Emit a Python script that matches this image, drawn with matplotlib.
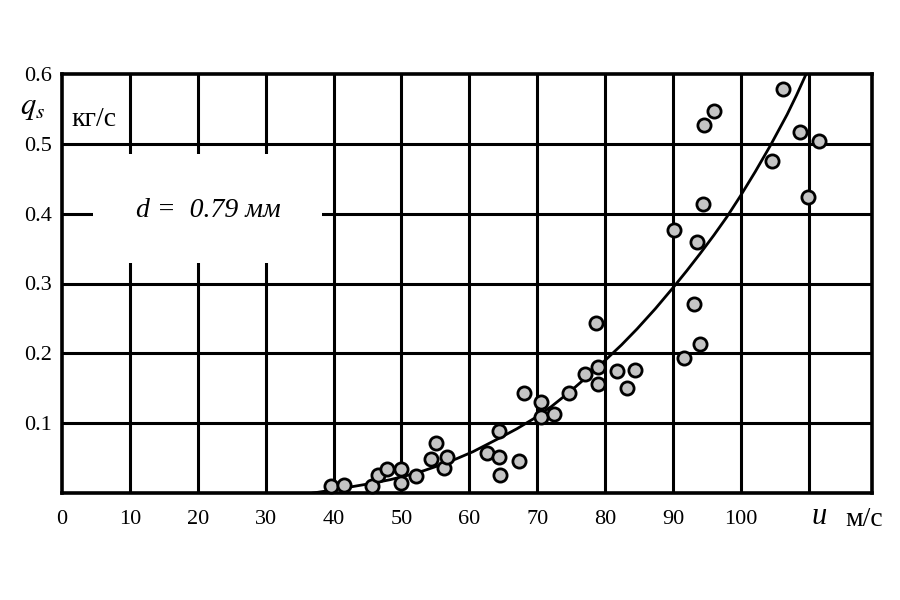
import matplotlib
matplotlib.use("Agg")
import matplotlib.pyplot as plt
from matplotlib.patches import Rectangle

# measured points (u, m/s ; q_s, kg/s)
u_pts = [39.6, 41.5, 45.7, 46.5, 47.9, 49.9, 50.0, 52.1, 54.3, 55.1, 56.3, 56.7,
         62.6, 64.4, 64.4, 64.5, 67.3, 68.0, 70.5, 70.5, 72.5, 74.7, 77.0, 78.6,
         78.9, 78.9, 81.7, 83.2, 84.4, 90.1, 91.6, 93.1, 93.5, 94.0, 94.4, 94.5,
         96.0, 104.6, 106.2, 108.7, 109.9, 111.5]
q_pts = [0.010, 0.011, 0.010, 0.026, 0.034, 0.034, 0.015, 0.024, 0.048, 0.071, 0.036, 0.051,
         0.057, 0.089, 0.051, 0.026, 0.046, 0.143, 0.130, 0.109, 0.113, 0.143, 0.170, 0.244,
         0.181, 0.156, 0.174, 0.150, 0.176, 0.377, 0.193, 0.270, 0.359, 0.213, 0.414, 0.527,
         0.547, 0.476, 0.579, 0.517, 0.424, 0.504]

# approximating curve
u_curve = [37.0, 39.0, 40.9, 43.3, 45.7, 48.3, 50.8, 53.3, 55.7, 58.1, 60.5, 62.5, 64.5,
           67.0, 69.4, 72.1, 74.8, 77.4, 80.0, 82.4, 84.7, 87.4, 90.0, 92.0, 94.0,
           96.0, 97.9, 99.9, 102.1, 104.3, 106.8, 108.2, 109.6]
q_curve = [0.0, 0.003, 0.006, 0.010, 0.014, 0.019, 0.025, 0.032, 0.040, 0.049, 0.059,
           0.069, 0.079, 0.092, 0.106, 0.124, 0.145, 0.167, 0.190, 0.212, 0.235, 0.264,
           0.294, 0.318, 0.343, 0.369, 0.395, 0.425, 0.460, 0.497, 0.542, 0.570, 0.600]

x_ticks = [0, 10, 20, 30, 40, 50, 60, 70, 80, 90, 100]
x_grid = [10, 20, 30, 40, 50, 60, 70, 80, 90, 100, 110]
y_ticks = [0.1, 0.2, 0.3, 0.4, 0.5, 0.6]
y_grid = [0.1, 0.2, 0.3, 0.4, 0.5]

SERIF = "Liberation Serif"

fig = plt.figure(figsize=(9, 6), dpi=100)
ax = fig.add_axes([62/900, 1-493/600, (872-62)/900, (493-74)/600])
ax.set_xlim(0, 119.3)
ax.set_ylim(0, 0.6)

for xv in x_grid:
    ax.axvline(xv, color="black", lw=2.2, zorder=1)
for yv in y_grid:
    ax.axhline(yv, color="black", lw=2.2, zorder=1)

ax.add_patch(Rectangle((4.6, 0.33), 33.7, 0.156, facecolor="white",
                       edgecolor="none", zorder=2))

ax.plot(u_curve, q_curve, color="black", lw=2.0, zorder=3, clip_on=True)
ax.plot(u_pts, q_pts, linestyle="none", marker="o", markersize=9.5,
        markerfacecolor="#c4c4c4", markeredgecolor="black", markeredgewidth=2.0,
        zorder=4, clip_on=False)

for s in ax.spines.values():
    s.set_linewidth(2.6)
    s.set_color("black")

ax.set_xticks(x_ticks)
ax.set_xticklabels([str(v) for v in x_ticks], fontfamily=SERIF, fontsize=16)
ax.set_yticks(y_ticks)
ax.set_yticklabels([f"{v:.1f}" for v in y_ticks], fontfamily=SERIF, fontsize=16)
ax.tick_params(axis="x", length=0, pad=12)
ax.tick_params(axis="y", length=0, pad=7)

ax.text(21.5, 0.405, "d =  0.79 мм", fontfamily=SERIF,
        style="italic", fontsize=20, ha="center", va="center", zorder=5)
ax.text(1.4, 0.535, "кг/с", fontfamily=SERIF, fontsize=20, ha="left",
        va="center", zorder=5)

fig.text(33/900, 1-108/600, r"$q_s$", fontsize=22, ha="center", va="center",
         math_fontfamily="stix")
fig.text(819/900, 1-517/600, "u", fontfamily=SERIF, style="italic", fontsize=22,
         ha="center", va="center")
fig.text(864/900, 1-520/600, "м/с", fontfamily=SERIF, fontsize=20,
         ha="center", va="center")

fig.savefig("out.png", dpi=100, facecolor="white")
